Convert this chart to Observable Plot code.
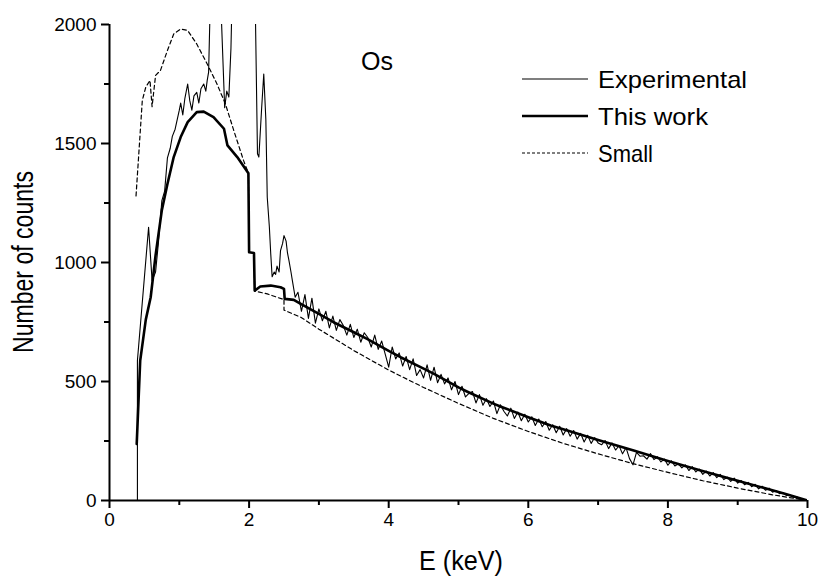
<!DOCTYPE html>
<html>
<head>
<meta charset="utf-8">
<script src="https://cdn.jsdelivr.net/npm/d3@7"></script>
<script src="https://cdn.jsdelivr.net/npm/@observablehq/plot@0.6"></script>
<style>
  html, body { margin: 0; padding: 0; background: #fff; }
  #wrap { position: relative; width: 822px; height: 577px; font-family: "Liberation Sans", Arial, sans-serif; }
  #overlay { position: absolute; left: 0; top: 0; pointer-events: none; }
</style>
</head>
<body>
<div id="wrap"></div>
<script>
// ---------- Data ----------
const xTicks = [0, 2, 4, 6, 8, 10];
const xMinorTicks = [1, 3, 5, 7, 9];
const yTicks = [0, 500, 1000, 1500, 2000];
const yMinorTicks = [250, 750, 1250, 1750];

const seriesNames = ["Experimental", "This work", "Small"];
const elementLabel = "Os";
const xLabel = "E (keV)";
const yLabel = "Number of counts";

// Experimental spectrum, low-energy part (E keV, counts); values above 2000 are clipped
const expEarlyE = [0.40, 0.40, 0.56, 0.61, 0.66, 0.70, 0.75, 0.79, 0.83, 0.87, 0.90, 0.94, 0.97, 1.00, 1.02, 1.05, 1.08, 1.12, 1.15, 1.18, 1.21, 1.25, 1.28, 1.31, 1.35, 1.38, 1.40, 1.42, 1.46, 1.56, 1.60, 1.65, 1.68, 1.71, 1.74, 1.77, 2.06, 2.09, 2.12, 2.14, 2.18, 2.21, 2.24, 2.26, 2.29, 2.31, 2.33, 2.36, 2.38, 2.40, 2.43, 2.45, 2.48, 2.50, 2.53, 2.55, 2.57, 2.60, 2.62, 2.66];
const expEarlyC = [0, 588, 1148, 924, 960, 1080, 1260, 1300, 1440, 1480, 1530, 1560, 1600, 1640, 1670, 1620, 1690, 1750, 1680, 1640, 1700, 1715, 1670, 1730, 1750, 1720, 1765, 1800, 2300, 2300, 2050, 1650, 1720, 1695, 1900, 2300, 2300, 2050, 1457, 1443, 1650, 1792, 1600, 1274, 1150, 1037, 940, 960, 950, 985, 960, 1050, 1080, 1113, 1090, 1040, 1010, 960, 924, 854];

// Experimental spectrum, 2.70 - 10.00 keV, channel step 0.05 keV
const expLateStartE = 2.70;
const expLateStepE = 0.05;
const expLateC = [
  875, 795, 865, 765, 850, 745, 805, 755, 795, 725,
  775, 715, 760, 735, 695, 740, 685, 720, 665, 705,
  685, 645, 695, 635, 670, 615, 560, 645, 595, 620,
  565, 605, 550, 595, 525, 550, 515, 570, 505, 560,
  495, 530, 490, 515, 465, 500, 445, 480, 435, 450,
  458, 410, 445, 400, 428, 395, 418, 365, 402, 375,
  355, 388, 345, 372, 335, 362, 330, 352, 315, 342,
  310, 332, 295, 318, 285, 312, 275, 302, 270, 294,
  258, 282, 246, 274, 240, 264, 242, 234, 252, 218,
  242, 212, 230, 196, 222, 176, 150, 202, 186, 188,
  174, 197, 172, 184, 162, 174, 148, 167, 145, 154,
  137, 150, 126, 142, 120, 132, 110, 124, 103, 117,
  96, 110, 88, 98, 80, 94, 73, 84, 66, 76,
  58, 68, 49, 60, 43, 52, 35, 42, 29, 33,
  21, 23, 13, 15, 6, 3, 0
];

// "This work" calculation
const thisE = [0.39, 0.44, 0.52, 0.59, 0.66, 0.75, 0.83, 0.92, 1.02, 1.12, 1.25, 1.35, 1.49, 1.64, 1.69, 1.83, 1.99, 2.00, 2.07, 2.08, 2.16, 2.31, 2.45, 2.50, 2.51, 2.64, 2.74, 3.0, 3.21, 3.5, 3.69, 4.0, 4.17, 4.5, 4.65, 5.0, 5.12, 5.5, 5.60, 6.0, 6.32, 6.56, 7.0, 7.51, 8.0, 8.47, 9.0, 9.42, 9.7, 10.0];
const thisC = [238, 588, 760, 854, 1030, 1220, 1330, 1443, 1527, 1590, 1632, 1634, 1611, 1562, 1492, 1443, 1375, 1043, 1040, 882, 899, 903, 896, 889, 847, 843, 826, 784, 749, 707, 679, 629, 602, 554, 532, 475, 458, 407, 395, 350, 315, 294, 254, 210, 166, 126, 83, 49, 26, 0];

// "Small" calculation (dashed)
const smallE = [0.38, 0.47, 0.52, 0.58, 0.61, 0.66, 0.73, 0.83, 0.92, 1.02, 1.12, 1.25, 1.40, 1.54, 1.66, 1.78, 1.92, 1.99, 2.00, 2.07, 2.08, 2.26, 2.47, 2.50, 2.50, 2.74, 3.0, 3.5, 4.0, 4.5, 5.0, 5.5, 6.0, 6.5, 7.0, 7.5, 8.0, 8.5, 9.0, 9.5, 10.0];
const smallC = [1280, 1681, 1737, 1765, 1655, 1786, 1807, 1891, 1960, 1981, 1975, 1918, 1834, 1750, 1667, 1555, 1429, 1375, 1043, 1040, 880, 868, 847, 847, 800, 770, 720, 630, 548, 475, 408, 345, 290, 240, 196, 155, 118, 83, 52, 24, 0];

// ---------- Build tables ----------
const experimental = expEarlyE.map((e, i) => ({E: e, c: expEarlyC[i]}))
  .concat(expLateC.map((c, i) => ({E: +(expLateStartE + i * expLateStepE).toFixed(2), c})));
const thisWork = thisE.map((e, i) => ({E: e, c: thisC[i]}));
const small = smallE.map((e, i) => ({E: e, c: smallC[i]}));

const font = "'Liberation Sans', Arial, sans-serif";
const W = 822, H = 577;
const mL = 109, mR = 15, mT = 24, mB = 77;

const chart = Plot.plot({
  width: W,
  height: H,
  marginLeft: mL,
  marginRight: mR,
  marginTop: mT,
  marginBottom: mB,
  x: {domain: [0, 10]},
  y: {domain: [0, 2000]},
  style: {fontFamily: font, fontSize: "19px", color: "#000", background: "#fff"},
  marks: [
    Plot.line(small, {x: "E", y: "c", stroke: "#000", strokeWidth: 1.2, strokeDasharray: "4,3", clip: true}),
    Plot.line(experimental, {x: "E", y: "c", stroke: "#000", strokeWidth: 1.1, clip: true}),
    Plot.line(thisWork, {x: "E", y: "c", stroke: "#000", strokeWidth: 2.6, clip: true}),
    Plot.axisX({ticks: xTicks, tickSize: 8, tickPadding: 4, strokeWidth: 2, label: null, fontSize: 19, tickFormat: d3.format("d")}),
    Plot.axisX({ticks: xMinorTicks, tickSize: 5, tickFormat: () => "", strokeWidth: 2, label: null}),
    Plot.axisY({ticks: yTicks, tickSize: 8, tickPadding: 5, strokeWidth: 2, label: null, fontSize: 19, tickFormat: d3.format("d")}),
    Plot.axisY({ticks: yMinorTicks, tickSize: 5, tickFormat: () => "", strokeWidth: 2, label: null}),
    Plot.ruleY([0], {strokeWidth: 2}),
    Plot.ruleX([0], {strokeWidth: 2})
  ]
});

const wrap = document.getElementById("wrap");
wrap.appendChild(chart);

// ---------- Overlay: axis titles, element label, legend ----------
const ov = d3.select(wrap).append("svg")
  .attr("id", "overlay").attr("width", W).attr("height", H)
  .style("font-family", font);

ov.append("text").attr("x", 461).attr("y", 570)
  .attr("text-anchor", "middle").attr("font-size", 28)
  .attr("textLength", 84).attr("lengthAdjust", "spacingAndGlyphs").text(xLabel);
ov.append("text").attr("transform", `translate(33, ${(mT + H - mB) / 2}) rotate(-90)`)
  .attr("text-anchor", "middle").attr("font-size", 29)
  .attr("textLength", 182).attr("lengthAdjust", "spacingAndGlyphs").text(yLabel);
ov.append("text").attr("x", 361).attr("y", 70).attr("font-size", 26)
  .attr("textLength", 32).attr("lengthAdjust", "spacingAndGlyphs").text(elementLabel);

const legendStyles = [
  {w: 1.1, dash: null, len: 149},
  {w: 2.6, dash: null, len: 110},
  {w: 1.2, dash: "3,2", len: 55}
];
seriesNames.forEach((name, i) => {
  const y = 79 + i * 37;
  ov.append("line").attr("x1", 522).attr("x2", 588).attr("y1", y).attr("y2", y)
    .attr("stroke", "#000").attr("stroke-width", legendStyles[i].w)
    .attr("stroke-dasharray", legendStyles[i].dash);
  ov.append("text").attr("x", 598).attr("y", y + 9).attr("font-size", 24)
    .attr("textLength", legendStyles[i].len).attr("lengthAdjust", "spacingAndGlyphs").text(name);
});
</script>
</body>
</html>
